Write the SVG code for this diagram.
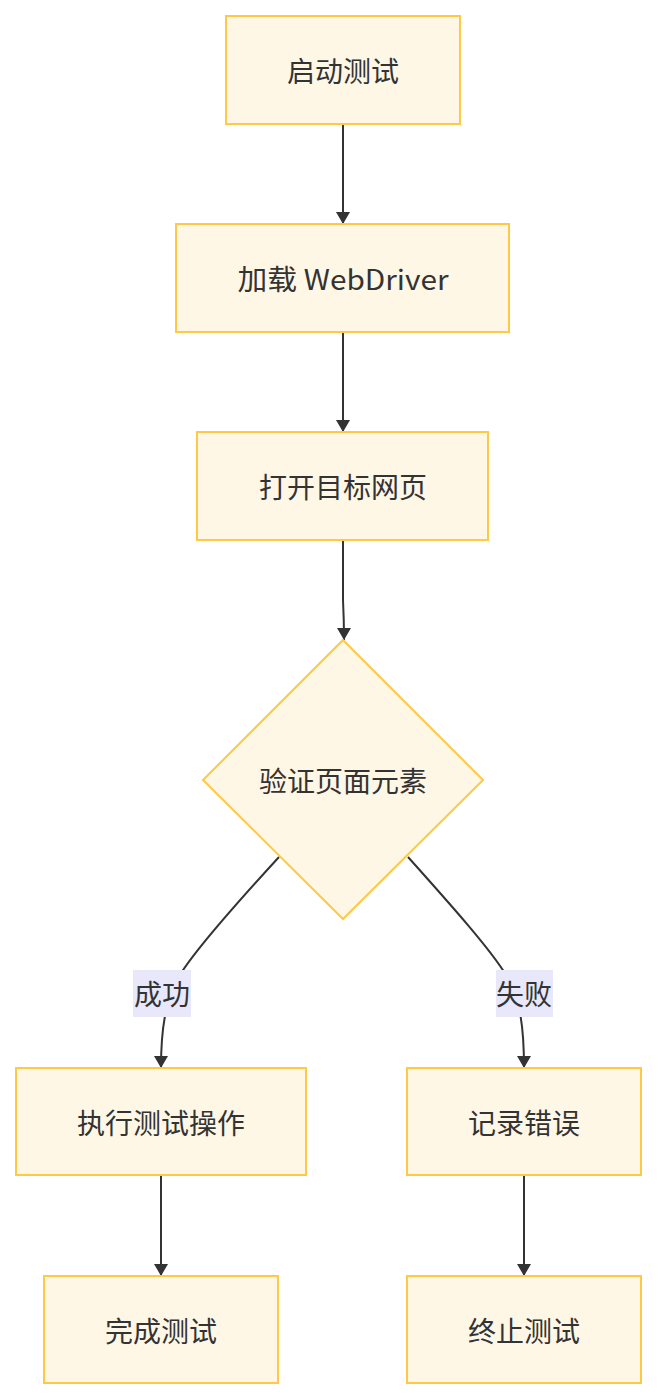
<svg xmlns="http://www.w3.org/2000/svg" width="658" height="1400" viewBox="0 0 658 1400">
<style>
.node rect, .node polygon { fill: #fff7e6; stroke: #ffc845; stroke-width: 2; }
.node text { font-family: "Noto Sans CJK SC", "Noto Sans", sans-serif; font-size: 28px; fill: #333333; text-anchor: middle; dominant-baseline: central; }
.edge { fill: none; stroke: #333333; stroke-width: 2; marker-end: url(#arrow); }
.lbl rect { fill: #e8e8fa; }
.lbl text { font-family: "Noto Sans CJK SC", sans-serif; font-size: 28px; fill: #333333; text-anchor: middle; dominant-baseline: central; }
</style>
<defs>
<marker id="arrow" viewBox="0 0 12 14" refX="12" refY="7" markerWidth="13" markerHeight="14" markerUnits="userSpaceOnUse" orient="auto">
<path d="M0,0 L12,7 L0,14 Z" fill="#333333"/>
</marker>
</defs>
<rect width="658" height="1400" fill="#ffffff"/>
<g id="connectors">
<path class="edge" d="M343,124 L343,224"/>
<path class="edge" d="M343,332 L343,432"/>
<path class="edge" d="M343,540 L343,600 Q344,620 344,640"/>
<path class="edge" d="M279,857 C235,905 195,950 180,975 C165,1000 161,1030 161,1068"/>
<path class="edge" d="M408,857 C451,905 491,950 506,975 C521,1000 524,1030 524,1068"/>
<path class="edge" d="M161,1175 L161,1276"/>
<path class="edge" d="M524,1175 L524,1276"/>
</g>
<g id="label-success" class="lbl"><rect x="133" y="970" width="58" height="47"/><text x="162" y="993">成功</text></g>
<g id="label-fail" class="lbl"><rect x="496" y="970" width="57" height="47"/><text x="524" y="993">失败</text></g>
<g id="n1" class="node"><rect x="226" y="16" width="234" height="108"/><text x="343" y="70">启动测试</text></g>
<g id="n2" class="node"><rect x="176" y="224" width="333" height="108"/><text x="343" y="278" textLength="211" lengthAdjust="spacingAndGlyphs">加载 WebDriver</text></g>
<g id="n3" class="node"><rect x="197" y="432" width="291" height="108"/><text x="343" y="486">打开目标网页</text></g>
<g id="n4" class="node"><polygon points="343,640 483,780 343,919 203,780"/><text x="343" y="780">验证页面元素</text></g>
<g id="n5" class="node"><rect x="16" y="1068" width="290" height="107"/><text x="161" y="1122">执行测试操作</text></g>
<g id="n6" class="node"><rect x="407" y="1068" width="234" height="107"/><text x="524" y="1122">记录错误</text></g>
<g id="n7" class="node"><rect x="44" y="1276" width="234" height="107"/><text x="161" y="1330">完成测试</text></g>
<g id="n8" class="node"><rect x="407" y="1276" width="234" height="107"/><text x="524" y="1330">终止测试</text></g>
</svg>
